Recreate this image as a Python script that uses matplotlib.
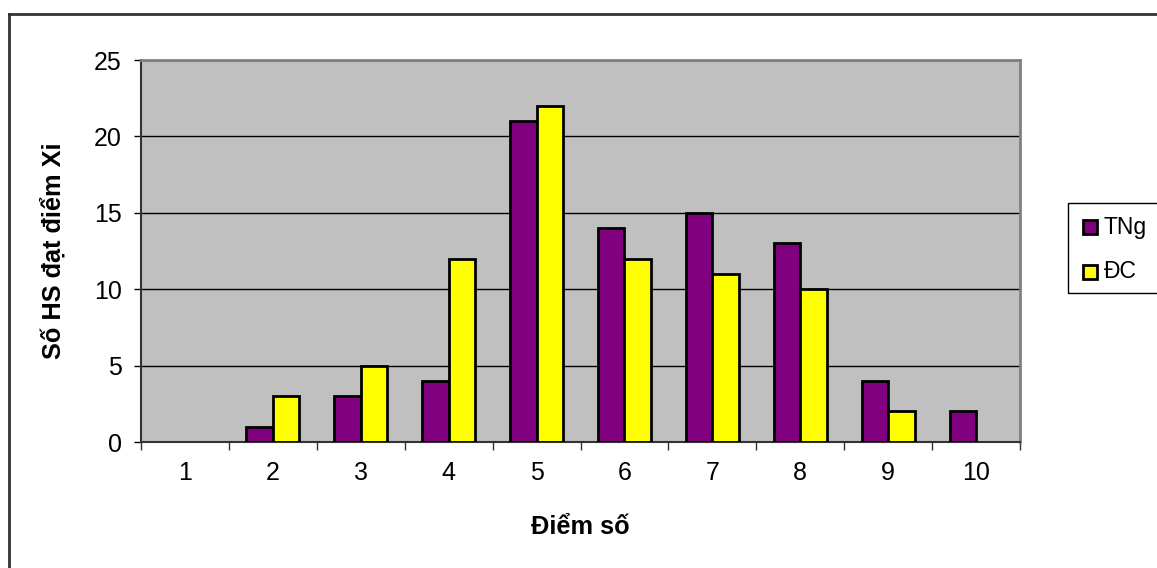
import matplotlib.pyplot as plt
from matplotlib.lines import Line2D
from matplotlib.patches import Rectangle
import numpy as np

plt.rcParams['font.family'] = ['Liberation Sans', 'DejaVu Sans']

categories = ['1', '2', '3', '4', '5', '6', '7', '8', '9', '10']
tng = [0, 1, 3, 4, 21, 14, 15, 13, 4, 2]
dc = [0, 3, 5, 12, 22, 12, 11, 10, 2, 0]
series_names = ['TNg', 'ĐC']
series_colors = ['#800080', '#FFFF00']

W, H = 1157, 568
fig = plt.figure(figsize=(W / 100, H / 100), dpi=100)
ax = fig.add_axes([141 / W, (H - 442) / H, (1020 - 141) / W, (442 - 60) / H])
ax.set_facecolor('#C0C0C0')

x = np.arange(len(categories))
bw = 0.30
for vals, off, col, name in [(tng, -bw / 2, series_colors[0], series_names[0]),
                             (dc, bw / 2, series_colors[1], series_names[1])]:
    v = np.array(vals, dtype=float)
    m = v > 0
    ax.bar(x[m] + off, v[m], width=bw, color=col, edgecolor='black',
           linewidth=2, label=name, zorder=3)

ax.set_xlim(-0.5, len(categories) - 0.5)
ax.set_ylim(0, 25)
ax.set_yticks(range(0, 26, 5))
ax.yaxis.grid(True, color='black', linewidth=1, zorder=1)
ax.set_xticks(x)
ax.set_xticklabels(categories)
ax.set_xticks(np.arange(-0.5, len(categories), 1), minor=True)
ax.tick_params(axis='x', which='major', length=0, pad=14, labelsize=18)
ax.tick_params(axis='x', which='minor', length=6, width=1, color='#333333')
ax.tick_params(axis='y', length=5, width=1, pad=9, labelsize=18)

for s in ['left', 'bottom']:
    ax.spines[s].set_color('#333333')
    ax.spines[s].set_linewidth(1.5)
for s in ['top', 'right']:
    ax.spines[s].set_color('#808080')
    ax.spines[s].set_linewidth(2)

ax.set_xlabel('Điểm số', fontsize=18.3, fontweight='bold', labelpad=21)
ax.set_ylabel('Số HS đạt điểm Xi', fontsize=18.3, fontweight='bold', labelpad=20)

# legend box, cut off at the right edge of the picture as in the original
def px(xp, yp):
    return xp / W, 1 - yp / H

lx0, ly0 = px(1068, 293)
fig.add_artist(Rectangle((lx0, ly0), (1200 - 1068) / W, (293 - 203) / H,
                         transform=fig.transFigure, facecolor='white',
                         edgecolor='black', linewidth=1, clip_on=False))
for i, (name, col) in enumerate(zip(series_names, series_colors)):
    yy = 227 + i * 45
    mx, my = px(1090, yy)
    fig.add_artist(Line2D([mx], [my], marker='s', linestyle='none', markersize=9.5,
                          markerfacecolor=col, markeredgecolor='black',
                          markeredgewidth=2, transform=fig.transFigure))
    tx, ty = px(1104, yy)
    fig.text(tx, ty, name, fontsize=16.5, va='center', ha='left')

# outer chart border (left and top only visible)
fig.add_artist(Line2D([9 / W, 9 / W], [0, 1 - 14 / H], transform=fig.transFigure,
                      color='#333333', linewidth=2))
fig.add_artist(Line2D([9 / W, 1], [1 - 14 / H, 1 - 14 / H], transform=fig.transFigure,
                      color='#333333', linewidth=2))

fig.savefig('out.png', dpi=100, facecolor='white')
